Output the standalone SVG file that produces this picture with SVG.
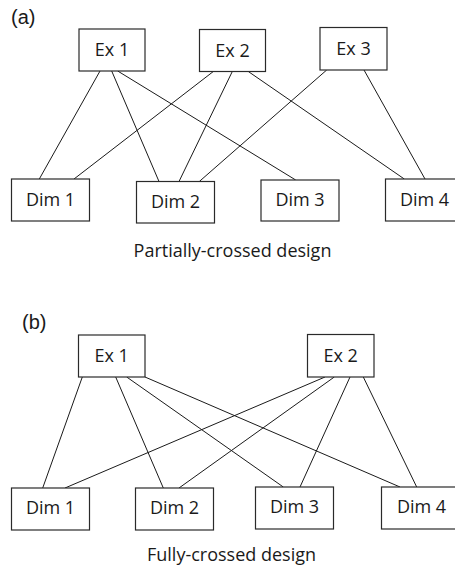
<svg xmlns="http://www.w3.org/2000/svg" width="455" height="568" viewBox="0 0 455 568">
  <style>
    .box rect { fill: #fff; stroke: #2a2a2a; stroke-width: 1.2; }
    .box text, .caption { font-family: "Open Sans", "Noto Sans", sans-serif; font-size: 18px; fill: #1a1a1a; text-anchor: middle; }
    .panel { font-family: "Liberation Sans", Arial, sans-serif; font-size: 20px; fill: #1a1a1a; }
    .links line { stroke: #1a1a1a; stroke-width: 1; fill: none; }
  </style>
  <rect width="455" height="568" fill="#fff"/>

  <!-- (a) partially-crossed design -->
  <text class="panel" x="11" y="24">(a)</text>

  <g class="links" id="links-a">
    <line x1="100" y1="71" x2="39.3" y2="179"/>
    <line x1="111.7" y1="71" x2="159" y2="181.5"/>
    <line x1="117.7" y1="71" x2="295.7" y2="180"/>
    <line x1="213.3" y1="71.5" x2="74" y2="179"/>
    <line x1="232.3" y1="71.5" x2="179" y2="181.5"/>
    <line x1="248.3" y1="71.5" x2="404.3" y2="179"/>
    <line x1="326.7" y1="70" x2="199.3" y2="181.5"/>
    <line x1="364" y1="70" x2="425" y2="179"/>
  </g>

  <g class="box" id="a-ex1"><rect x="79" y="29" width="66" height="42"/><text x="112" y="56">Ex 1</text></g>
  <g class="box" id="a-ex2"><rect x="199.5" y="29.5" width="66" height="42"/><text x="232.5" y="56.5">Ex 2</text></g>
  <g class="box" id="a-ex3"><rect x="320" y="27.5" width="67" height="42.5"/><text x="353.5" y="54.5">Ex 3</text></g>
  <g class="box" id="a-dim1"><rect x="11.5" y="179" width="78" height="42"/><text x="50.5" y="205.5">Dim 1</text></g>
  <g class="box" id="a-dim2"><rect x="136.5" y="181.5" width="78" height="41.5"/><text x="175.5" y="208">Dim 2</text></g>
  <g class="box" id="a-dim3"><rect x="261" y="180" width="78" height="41"/><text x="300" y="206">Dim 3</text></g>
  <g class="box" id="a-dim4"><rect x="385.5" y="179" width="78" height="42"/><text x="424.5" y="206">Dim 4</text></g>

  <text class="caption" x="232.5" y="256.5">Partially-crossed design</text>

  <!-- (b) fully-crossed design -->
  <text class="panel" x="22" y="329">(b)</text>

  <g class="links" id="links-b">
    <line x1="82.3" y1="377" x2="42.7" y2="488"/>
    <line x1="115.7" y1="377" x2="163.3" y2="488"/>
    <line x1="126.7" y1="377" x2="283.3" y2="487"/>
    <line x1="145" y1="377" x2="400" y2="487"/>
    <line x1="325" y1="377" x2="65" y2="488"/>
    <line x1="334.3" y1="377" x2="179" y2="488"/>
    <line x1="350" y1="377" x2="300" y2="487"/>
    <line x1="363.3" y1="377" x2="416.7" y2="487"/>
  </g>

  <g class="box" id="b-ex1"><rect x="78.5" y="335" width="66.5" height="42"/><text x="111.7" y="361.5">Ex 1</text></g>
  <g class="box" id="b-ex2"><rect x="307.5" y="334.5" width="66.5" height="42.5"/><text x="340.7" y="361.5">Ex 2</text></g>
  <g class="box" id="b-dim1"><rect x="11.5" y="488" width="78" height="42"/><text x="50.5" y="514">Dim 1</text></g>
  <g class="box" id="b-dim2"><rect x="135.5" y="488" width="78" height="42"/><text x="174.5" y="514">Dim 2</text></g>
  <g class="box" id="b-dim3"><rect x="255.5" y="487" width="78" height="42"/><text x="294.5" y="513">Dim 3</text></g>
  <g class="box" id="b-dim4"><rect x="381.5" y="487" width="78" height="42"/><text x="421.5" y="513">Dim 4</text></g>

  <text class="caption" x="231.5" y="561">Fully-crossed design</text>
</svg>
